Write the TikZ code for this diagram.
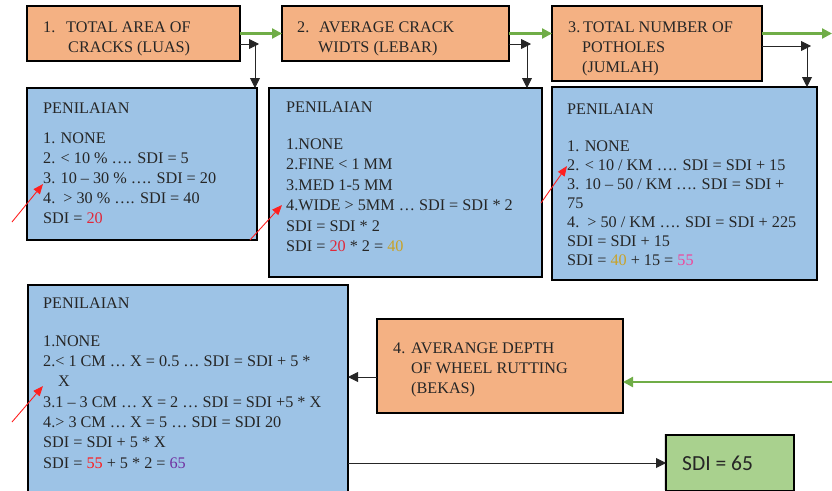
\documentclass[tikz,border=0pt]{standalone}
\usepackage{fontspec}
\setmainfont{Liberation Serif}
\newfontfamily\calib{Carlito}
\usetikzlibrary{arrows.meta,shadows}
\definecolor{orfill}{HTML}{F4B183}
\definecolor{blfill}{HTML}{9DC3E6}
\definecolor{grfill}{HTML}{A9D18E}
\definecolor{grarrow}{HTML}{70AD47}
\definecolor{redarrow}{HTML}{FF2020}
\definecolor{numred}{HTML}{E0283A}
\definecolor{numgold}{HTML}{C9A227}
\definecolor{numpink}{HTML}{F0459A}
\definecolor{numredb}{HTML}{FF1A1A}
\definecolor{numpurple}{HTML}{7030A0}
\definecolor{ink}{HTML}{262626}
\begin{document}
\begin{tikzpicture}[x=1pt,y=-1pt,
 box/.style={draw=black, line width=1.4pt, inner sep=0pt, outer sep=0pt, anchor=north west},
 obox/.style={box, fill=orfill},
 bbox/.style={box, fill=blfill},
 gbox/.style={box, fill=grfill},
 txt/.style={inner sep=0pt, anchor=north west, align=left, text=ink, font=\fontsize{16.2}{20}\selectfont},
 greenarrow/.style={draw=grarrow, line width=2.2pt, -{Triangle[length=10pt,width=10pt]}},
 blackarrow/.style={draw=ink, line width=0.9pt, -{Triangle[length=10pt,width=10pt]}},
 redarr/.style={draw=redarrow, line width=0.9pt, -{Triangle[length=10pt,width=8pt]}},
]
\useasboundingbox (0,0) rectangle (832,490);
\clip (0,0) rectangle (832,490);

% orange boxes
\node[obox, minimum width=213pt, minimum height=55pt] (o1) at (27,6) {};
\node[obox, minimum width=227pt, minimum height=55pt] (o2) at (282,6) {};
\node[obox, minimum width=210pt, minimum height=75pt] (o3) at (552,6) {};
\node[obox, minimum width=246pt, minimum height=94pt] (o4) at (377,319) {};

% blue boxes
\node[bbox, minimum width=230pt, minimum height=152pt] (b1) at (27,88) {};
\node[bbox, minimum width=273pt, minimum height=189pt] (b2) at (269,88) {};
\node[bbox, minimum width=265pt, minimum height=193pt] (b3) at (552,87) {};
\node[bbox, minimum width=320pt, minimum height=215pt] (b4) at (28,285) {};

% green result box
\node[gbox, minimum width=128pt, minimum height=56pt,
      drop shadow={shadow xshift=-2pt,shadow yshift=1pt,opacity=0.25}] (g) at (666,435) {};

% orange texts
\node[txt] (o1t) at (43,18) {\strut\makebox[23pt][l]{1.}TOTAL AREA OF\\\hspace*{25pt}CRACKS (LUAS)};
\node[txt] (o2t) at (297,18) {\strut\makebox[22pt][l]{2.}AVERAGE CRACK\\\hspace*{21pt}WIDTS (LEBAR)};
\node[txt] (o3t) at (568,18) {\strut\makebox[15pt][l]{3.}TOTAL NUMBER OF\\\hspace*{14pt}POTHOLES\\\hspace*{14pt}(JUMLAH)};
\node[txt] (o4t) at (393,339) {\strut\makebox[18pt][l]{4.}AVERANGE DEPTH\\\hspace*{18pt}OF WHEEL RUTTING\\\hspace*{18pt}(BEKAS)};

% blue texts
\node[txt] (b1h) at (43,99) {\strut PENILAIAN};
\node[txt] (b1l) at (43,129) {\strut 1. NONE\\2. < 10 \% …. SDI = 5\\3. 10 – 30 \% …. SDI = 20\\4.\ \ > 30 \% …. SDI = 40\\SDI = \textcolor{numred}{20}};

\node[txt] (b2h) at (286,98.5) {\strut PENILAIAN};
\node[txt, font=\fontsize{16.2}{20.5}\selectfont] (b2l) at (286,134.6) {\strut 1.NONE\\2.FINE < 1 MM\\3.MED 1-5 MM\\4.WIDE > 5MM … SDI = SDI * 2\\SDI = SDI * 2\\SDI = \textcolor{numred}{20} * 2 = \textcolor{numgold}{40}};

\node[txt] (b3h) at (567,100) {\strut PENILAIAN};
\node[txt, font=\fontsize{16.2}{19}\selectfont] (b3l) at (567,137.7) {\strut 1. NONE\\2. < 10 / KM …. SDI = SDI + 15\\3. 10 – 50 / KM …. SDI = SDI +\\75\\4.\ \ > 50 / KM …. SDI = SDI + 225\\SDI = SDI + 15\\SDI = \textcolor{numgold}{40} + 15 = \textcolor{numpink}{55}};

\node[txt] (b4h) at (43,294) {\strut PENILAIAN};
\node[txt, font=\fontsize{16.2}{20.3}\selectfont] (b4l) at (43,331.8) {\strut 1.NONE\\2.< 1 CM … X = 0.5 … SDI = SDI + 5 *\\\hspace*{15pt}X\\3.1 – 3 CM … X = 2 … SDI = SDI +5 * X\\4.> 3 CM … X = 5 … SDI = SDI 20\\SDI = SDI + 5 * X\\SDI = \textcolor{numredb}{55} + 5 * 2 = \textcolor{numpurple}{65}};

\node[anchor=base west, inner sep=0pt, text=ink, font=\calib\fontsize{21.5}{24}\selectfont] (gt) at (682,470) {SDI = 65};

% green flow arrows
\coordinate (e3) at (832,33.5);
\coordinate (e4) at (832,382);
\draw[greenarrow] (o1.east) -- (o1.east -| o2.west);
\draw[greenarrow] (o2.east) -- (o2.east -| o3.west);
\draw[greenarrow] (o3.east |- e3) -- (e3);
\draw[greenarrow] (e4) -- (e4 -| o4.east);

% black elbow connectors
\coordinate (c1) at (259,44);
\coordinate (c2) at (531,44);
\coordinate (c3) at (811,46);
\draw[blackarrow] (o1.east |- c1) -- (c1);
\draw[blackarrow] ([xshift=-4pt]c1) -- ([xshift=-4pt]c1 |- b1.north);
\draw[blackarrow] (o2.east |- c2) -- (c2);
\draw[blackarrow] ([xshift=-4pt]c2) -- ([xshift=-4pt]c2 |- b2.north);
\draw[blackarrow] (o3.east |- c3) -- (c3);
\draw[blackarrow] ([xshift=-4pt]c3) -- ([xshift=-4pt]c3 |- b3.north);

\coordinate (k4) at (360,377);
\draw[blackarrow] (o4.west |- k4) -- (b4.east |- k4);
\draw[blackarrow] (b4.east |- g.west) -- (g.west);

% red pointer arrows
\coordinate (r1a) at (12,222);  \coordinate (r1b) at (43,184);
\coordinate (r2a) at (250,240); \coordinate (r2b) at (282,205);
\coordinate (r3a) at (541,203); \coordinate (r3b) at (567,166);
\coordinate (r4a) at (12,422);  \coordinate (r4b) at (43,386);
\draw[redarr] (r1a) -- (r1b);
\draw[redarr] (r2a) -- (r2b);
\draw[redarr] (r3a) -- (r3b);
\draw[redarr] (r4a) -- (r4b);
\end{tikzpicture}
\end{document}
